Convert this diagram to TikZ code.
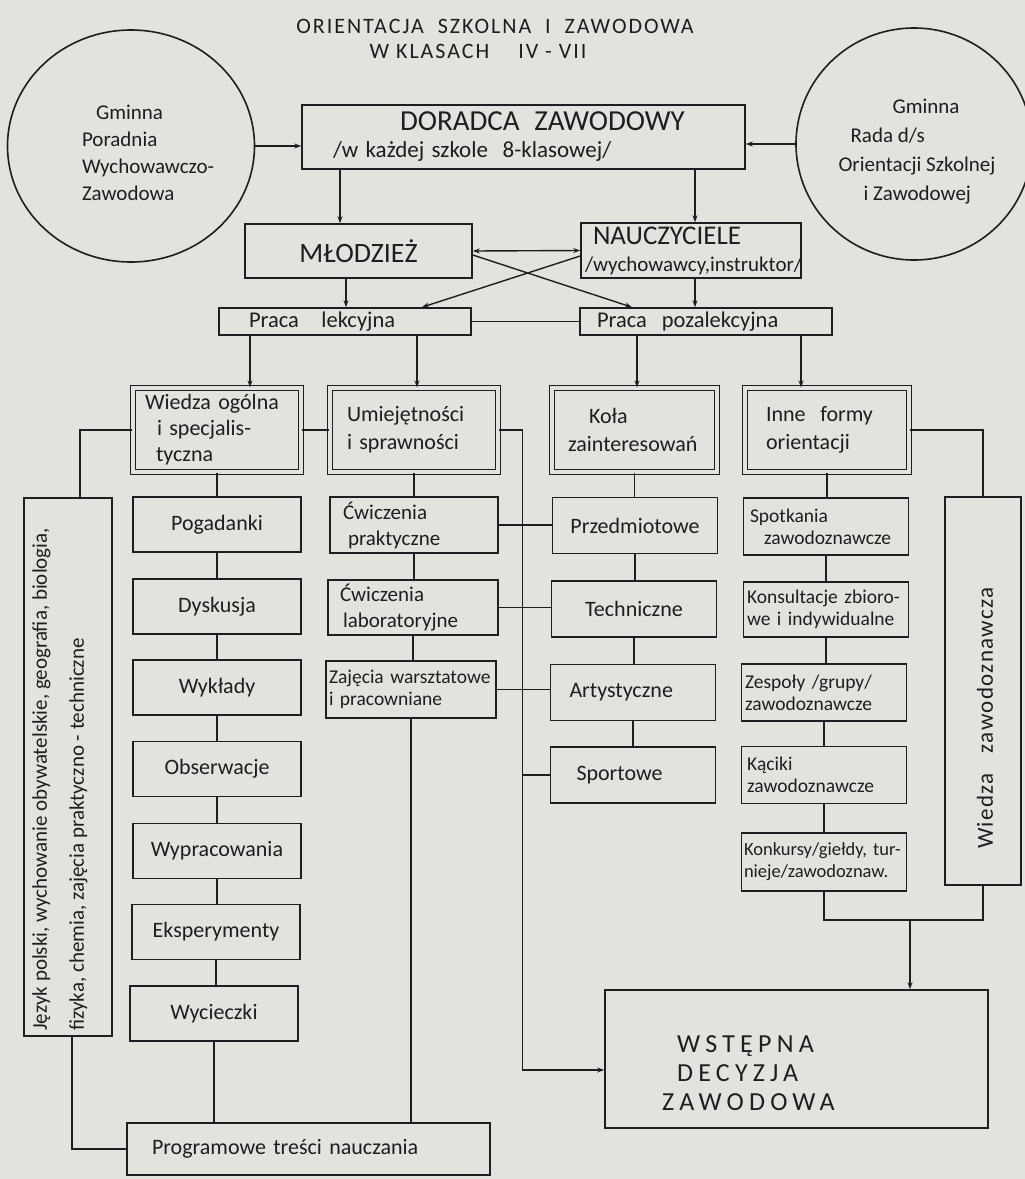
\documentclass[tikz,border=0pt]{standalone}
\usepackage{fontspec}
\setmainfont{Carlito}
\newfontfamily\spacedfont[LetterSpace=20]{Carlito}
\newfontfamily\widefont[LetterSpace=6]{Carlito}
\newfontfamily\titlefont[LetterSpace=9]{Carlito}
\usetikzlibrary{shapes.geometric,arrows.meta,calc}
\definecolor{paper}{RGB}{226,226,222}
\definecolor{ink}{RGB}{30,30,30}
\newcommand\fsz[2]{\fontsize{#1}{#2}\selectfont}
\begin{document}
\begin{tikzpicture}[x=1pt,y=-1pt,
  txt/.style={inner sep=0pt, text=ink},
  box/.style={draw=ink, line width=1.6pt, rectangle, inner sep=0pt, align=center, text=ink, font=\fsz{22}{27}},
  dbox/.style={box, double=paper, double distance=3.5pt, line width=1.1pt},
  circ/.style={ellipse, draw=ink, line width=1.6pt, inner sep=0pt},
  conn/.style={draw=ink, line width=1.4pt},
  arr/.style={conn, -{Stealth[length=7pt,width=5pt]}},
  arr2/.style={conn, {Stealth[length=7pt,width=5pt]}-{Stealth[length=7pt,width=5pt]}},
  c1/.style={box, minimum width=168, minimum height=55},
  c2/.style={box, minimum width=168, minimum height=56, align=left, font=\fsz{21}{26}},
  c3/.style={box, minimum width=165, minimum height=56},
  c4/.style={box, minimum width=165, minimum height=57, align=left, font=\fsz{19.5}{22}}
]
\fill[paper] (0,0) rectangle (1025,1179);
\useasboundingbox (0,0) rectangle (1025,1179);

% title
\node[txt, font=\titlefont\fsz{22}{24}] (t1) at (495,26) {ORIENTACJA\ \ SZKOLNA\ \ I\ \ ZAWODOWA};
\node[txt, font=\titlefont\fsz{22}{24}] (t2) at (478,51) {W KLASACH\quad\ IV\ -\ VII};

% circles
\node[circ, minimum width=247, minimum height=232] (lc) at (131,146) {};
\node[txt, align=left, font=\fsz{21}{27}] (lct) at (148,153) {\hspace{14pt}Gminna\\Poradnia\\Wychowawczo-\\Zawodowa};
\node[circ, minimum width=236, minimum height=232] (rc) at (914,144) {};
\node[txt, align=left, font=\fsz{21}{29}] (rct) at (917,152) {\hspace{54pt}Gminna\\\hspace{12pt}Rada d/s\\Orientacji Szkolnej\\\hspace{25pt}i Zawodowej};

% top boxes
\node[box, minimum width=443, minimum height=64, text width=381, align=left] (dor) at (523.5,137)
  {\fsz{29}{27}\hspace{67pt}DORADCA\ \ ZAWODOWY\\\fsz{23}{25}/w każdej szkole\ \ 8-klasowej/};
\node[box, minimum width=227, minimum height=54, font=\fsz{28}{28}] (mlo) at (358.5,251) {MŁODZIEŻ};
\node[box, minimum width=220, minimum height=55, text width=212, align=left] (nau) at (691,250.5)
  {\fsz{27}{22}\hspace{8pt}NAUCZYCIELE\\\fsz{21}{24}/wychowawcy,instruktor/};
\node[box, minimum width=252, minimum height=27, text width=192, align=left, font=\fsz{22.5}{24}] (pl) at (345,321.5) {Praca\ \ \ lekcyjna};
\node[box, minimum width=252, minimum height=27, text width=218, align=left, font=\fsz{22.5}{24}] (pp) at (706,321.5) {Praca\ \ pozalekcyjna};

% row of double boxes
\node[dbox, minimum width=168, minimum height=84, text width=144, align=left, font=\fsz{22}{26}] (wie) at (217,430) {Wiedza ogólna\\\hspace{12pt}i specjalis-\\\hspace{11pt}tyczna};
\node[dbox, minimum width=168, minimum height=84, text width=134, align=left, font=\fsz{22}{28}] (umi) at (414,430) {Umiejętności\\i sprawności};
\node[dbox, minimum width=165, minimum height=84, text width=133, align=left, font=\fsz{22}{28}] (kol) at (634.5,430) {\hspace{21pt}Koła\\zainteresowań};
\node[dbox, minimum width=164, minimum height=84, text width=122, align=left, font=\fsz{22}{28}] (inn) at (827,430) {Inne\ \ formy\\orientacji};

% column 1
\node[c1] (pog) at (217,524.5) {Pogadanki};
\node[c1] (dys) at (217,606.5) {Dyskusja};
\node[c1] (wyk) at (217,687.5) {Wykłady};
\node[c1] (obs) at (217,769) {Obserwacje};
\node[c1] (wyp) at (217,851) {Wypracowania};
\node[c1] (eks) at (216,932) {Eksperymenty};
\node[c1] (wyc) at (214,1013.5) {Wycieczki};

% column 2
\node[c2, text width=142] (cwp) at (414,525) {Ćwiczenia\\\hspace{5pt}praktyczne};
\node[c2, text width=146, minimum width=170, minimum height=55] (cwl) at (413,607.5) {Ćwiczenia\\\hspace{3pt}laboratoryjne};
\node[c2, font=\fsz{19.5}{22}, text width=164, minimum width=170, minimum height=57] (zaj) at (411,689.5) {Zajęcia warsztatowe\\i pracowniane};

% column 3
\node[c3] (prz) at (635,525.5) {Przedmiotowe};
\node[c3] (tec) at (634,609) {Techniczne};
\node[c3, align=left, text width=127] (art) at (633,692.5) {Artystyczne};
\node[c3, align=left, text width=113] (spo) at (633,775) {Sportowe};

% column 4
\node[c4, text width=152] (spt) at (826,526.5) {Spotkania\\\hspace{14pt}zawodoznawcze};
\node[c4, text width=158, minimum height=55] (kon) at (826,609.5) {Konsultacje zbioro-\\we i indywidualne};
\node[c4, text width=158] (zes) at (824,692.5) {Zespoły /grupy/\\zawodoznawcze};
\node[c4, text width=154] (kac) at (824,775) {Kąciki\\zawodoznawcze};
\node[c4, text width=160, minimum height=58, font=\fsz{18.5}{22}] (kkr) at (824,862) {Konkursy/giełdy, tur-\\nieje/zawodoznaw.};

% side boxes
\node[box, minimum width=88, minimum height=538] (lft) at (68,767) {};
\node[txt, rotate=90, anchor=north west, align=left, font=\fsz{21}{37}] (lftt) at (32,1031)
  {Język polski, wychowanie obywatelskie, geografia, biologia,\\fizyka, chemia, zajęcia praktyczno - techniczne};
\node[box, minimum width=76, minimum height=388] (wzw) at (983,691) {};
\node[txt, rotate=90, font=\widefont\fsz{23}{24}] (wzwt) at (985,718) {Wiedza\ \ \ zawodoznawcza};

% bottom boxes
\node[box, minimum width=363, minimum height=52, text width=313, align=left] (prg) at (308.5,1149) {Programowe treści nauczania};
\node[box, minimum width=383, minimum height=138] (wse) at (796.5,1059) {};
\node[txt, anchor=west, align=left, font=\spacedfont\fsz{26}{29}] (wset) at (662,1073) {\hspace{15pt}WSTĘPNA\\\hspace{15pt}DECYZJA\\ZAWODOWA};

% ---- connectors ----
\draw[arr] (lc.east) -- (lc.east -| dor.west);
\draw[arr] (rc.west) -- (rc.west -| dor.east);
\coordinate (m1) at ([xshift=-18.5pt]mlo.north);
\draw[arr] (m1 |- dor.south) -- (m1);
\coordinate (n1) at ([xshift=4pt]nau.north);
\draw[arr] (n1 |- dor.south) -- (n1);
\draw[arr2] (mlo.east) -- (nau.west);
\coordinate (m2) at ([yshift=-4pt]mlo.east);
\coordinate (n2) at ([yshift=-5.5pt]nau.west);
\coordinate (pl1) at ([xshift=77pt]pl.north);
\coordinate (pp1) at ([xshift=-74pt]pp.north);
\draw[arr] (m2) -- (pp1);
\draw[arr] (n2) -- (pl1);
\coordinate (m3) at ([xshift=-12.5pt]mlo.south);
\draw[arr] (m3) -- (m3 |- pl.north);
\coordinate (n3) at ([xshift=4pt]nau.south);
\draw[arr] (n3) -- (n3 |- pp.north);
\draw[conn] (pl.east) -- (pp.west);
\coordinate (pl2) at ([xshift=-95pt]pl.south);
\coordinate (pl3) at ([xshift=72pt]pl.south);
\coordinate (pp2) at ([xshift=-69pt]pp.south);
\coordinate (pp3) at ([xshift=95pt]pp.south);
\draw[arr] (pl2) -- (pl2 |- wie.north);
\draw[arr] (pl3) -- (pl3 |- umi.north);
\draw[arr] (pp2) -- (pp2 |- kol.north);
\draw[arr] (pp3) -- (pp3 |- inn.north);

\foreach \a/\b in {wie/pog,pog/dys,dys/wyk,wyk/obs,obs/wyp,wyp/eks,eks/wyc,
                   umi/cwp,cwp/cwl,cwl/zaj,
                   kol/prz,prz/tec,tec/art,art/spo,
                   inn/spt,spt/kon,kon/zes,zes/kac,kac/kkr}
  \draw[conn] (\a.south) -- (\a.south |- \b.north);

\draw[conn] (wie.east) -- (umi.west);
\coordinate (l1) at ([xshift=12pt]lft.north);
\draw[conn] (wie.west) -| (l1);
\coordinate (l2) at ([xshift=4pt]lft.south);
\draw[conn] (l2) |- (prg.west);
\draw[conn] (wyc.south) -- (wyc.south |- prg.north);
\draw[conn] (zaj.south) -- (zaj.south |- prg.north);
\draw[conn] (cwp.east) -- (cwp.east -| prz.west);
\draw[conn] (cwl.east) -- (cwl.east -| tec.west);
\draw[conn] (zaj.east) -- (zaj.east -| art.west);
\coordinate (vx) at ([xshift=24pt]umi.east);
\coordinate (w1) at ([yshift=-11pt]wse.west);
\draw[arr] (umi.east) -- (vx) -- (vx |- w1) -- (w1);
\draw[conn] (spo.west) -- (spo.west -| vx);
\draw[conn] (inn.east) -| (wzw.north);
\coordinate (jn) at (910,920);
\coordinate (jr) at (jn -| wzw.south);
\draw[conn] (kkr.south) |- (jr) -- (wzw.south);
\draw[arr] (jn) -- (jn |- wse.north);
\end{tikzpicture}
\end{document}
